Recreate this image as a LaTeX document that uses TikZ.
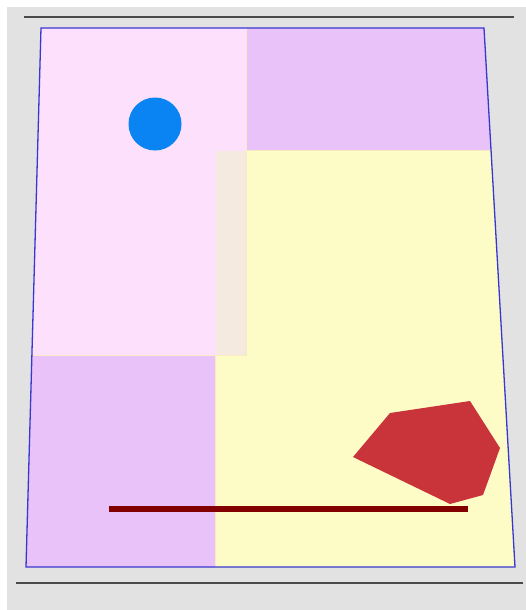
\documentclass[tikz,border=0pt]{standalone}
\usepackage{tikz}
\usetikzlibrary{arrows.meta}

\definecolor{fondo}{HTML}{E2E2E2}
\definecolor{gris}{HTML}{4A4A4A}
\definecolor{contorno}{HTML}{3838D0}
\definecolor{rosa}{HTML}{FCE0FC}
\definecolor{violeta}{HTML}{E8C2F8}
\definecolor{amarillo}{HTML}{FEFCC6}
\definecolor{beige}{HTML}{F5EADF}
\definecolor{borde}{HTML}{FAEAC4}
\definecolor{celeste}{HTML}{0A84F2}
\definecolor{rojo}{HTML}{C8343A}
\definecolor{granate}{HTML}{820000}

\begin{document}
\begin{tikzpicture}[x=1pt, y=-1pt, >=Stealth,
    zona/.style={draw=borde, line width=0.6pt}]
                % Fondo de la ventana
                \useasboundingbox (0,0) rectangle (526,610);
                \fill[white] (0,0) rectangle (526,610);
                \fill[fondo] (7,7) rectangle (526,610);

                % Líneas separadoras arriba y abajo
                \draw[gris, line width=1.6pt] (24,17) -- (514,17);
                \draw[gris, line width=1.3pt] (16,583) -- (523,583);

                % Esquinas del plano
                \coordinate (A) at (41,28);
                \coordinate (B) at (484,28);
                \coordinate (C) at (515,567);
                \coordinate (D) at (26,567);

                % Zonas de color recortadas por el contorno
                \begin{scope}
                    \clip (A) -- (B) -- (C) -- (D) -- cycle;
                    \fill[violeta] (244,20) rectangle (560,150);
                    \fill[amarillo, zona] (215,150) rectangle (560,580);
                    \fill[violeta] (0,355) rectangle (215,580);
                    \fill[rosa, zona] (0,20) rectangle (246,355);
                    % Solape de la zona rosa con la amarilla
                    \fill[beige] (216,151) rectangle (245.5,354.5);
                \end{scope}

                % Contorno del plano
                \draw[contorno, line width=1.3pt] (A) -- (B) -- (C) -- (D) -- cycle;

                % Círculo azul
                \coordinate (O) at (155,124);
                \fill[celeste] (O) circle (26.5pt);

                % Polígono rojo
                \fill[rojo] (390,413) -- (470,401) -- (500,448) -- (483,495)
                    -- (450,504) -- (353,457) -- cycle;

                % Barra granate
                \coordinate (P) at (109,509);
                \coordinate (Q) at (468,509);
                \draw[granate, line width=6pt] (P) -- (Q);
            \end{tikzpicture}
\end{document}
